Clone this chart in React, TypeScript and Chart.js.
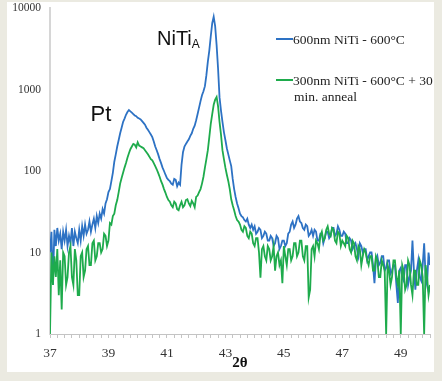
import React, { useEffect, useRef } from "react";
import { Chart, registerables } from "chart.js";

Chart.register(...registerables);

// 2θ sampling grid: 37.00 .. 50.00 in steps of 0.05
const startAngle = 37;
const stepAngle = 0.05;

// 600nm NiTi - 600°C (blue)
const blueCounts = [
  10, 18, 4, 19, 12, 20, 14, 17, 11, 18, // 37.00
  14, 19, 12, 16, 13, 20, 12, 18, 15, 13, // 37.50
  19, 14, 21, 16, 22, 17, 19, 24, 18, 22, // 38.00
  26, 20, 28, 23, 30, 26, 34, 30, 40, 45, // 38.50
  55, 60, 75, 95, 130, 160, 200, 240, 290, 340, // 39.00
  400, 440, 490, 530, 560, 540, 520, 500, 480, 470, // 39.50
  450, 440, 430, 410, 390, 370, 340, 320, 300, 280, // 40.00
  260, 230, 200, 180, 160, 140, 125, 110, 100, 90, // 40.50
  82, 78, 75, 70, 68, 80, 78, 65, 72, 68, // 41.00
  120, 170, 200, 215, 230, 245, 270, 290, 330, 360, // 41.50
  420, 500, 600, 720, 850, 950, 1100, 1500, 2200, 3000, // 42.00
  4500, 6500, 7800, 6000, 3500, 1800, 800, 550, 400, 300, // 42.50
  240, 190, 160, 135, 115, 80, 60, 48, 40, 35, // 43.00
  30, 28, 27, 25, 24, 26, 22, 20, 22, 19, // 43.50
  21, 17, 18, 20, 19, 15, 16, 18, 17, 14, // 44.00
  14, 16, 15, 12, 13, 16, 15, 11, 12, 14, // 44.50
  14, 12, 13, 17, 18, 22, 24, 20, 22, 26, // 45.00
  28, 24, 23, 20, 19, 22, 21, 16, 17, 19, // 45.50
  16, 19, 18, 14, 14, 17, 17, 13, 15, 18, // 46.00
  18, 15, 16, 20, 20, 16, 17, 21, 19, 16, // 46.50
  16, 18, 17, 13, 13, 15, 14, 11, 12, 13, // 47.00
  11, 9, 13, 12, 10, 11, 11, 8, 9, 10, // 47.50
  10, 7, 4.2, 8, 9, 7, 7.5, 9, 9, 6, // 48.00
  6.5, 8, 8, 5.5, 6, 7, 7, 4, 2.4, 6, // 48.50
  6.5, 5, 4.5, 7, 7, 4, 5, 6, 14, 6, // 49.00
  3.5, 6, 8, 5, 4.5, 7, 13, 5, 4, 10, // 49.50
  7, // 50.00
];

// 300nm NiTi - 600°C + 30 min. anneal (green)
const greenCounts = [
  1, 10, 4, 9, 5, 11, 3, 8, 2, 10, // 37.00
  9, 4, 5, 10, 12, 5, 4, 11, 8, 3, // 37.50
  3, 9, 10, 5, 6, 11, 12, 7, 7, 13, // 38.00
  14, 8, 9, 13, 13, 10, 11, 17, 16, 12, // 38.50
  14, 23, 22, 28, 30, 38, 44, 55, 70, 82, // 39.00
  95, 110, 125, 145, 165, 185, 200, 215, 210, 195, // 39.50
  225, 205, 200, 195, 190, 180, 170, 160, 150, 140, // 40.00
  135, 125, 115, 105, 95, 85, 75, 68, 60, 54, // 40.50
  48, 44, 42, 38, 36, 42, 40, 34, 33, 38, // 41.00
  42, 36, 38, 44, 45, 40, 37, 43, 40, 36, // 41.50
  48, 50, 55, 60, 70, 85, 110, 140, 180, 260, // 42.00
  380, 500, 650, 750, 810, 620, 400, 280, 180, 140, // 42.50
  110, 90, 75, 60, 45, 38, 33, 28, 25, 24, // 43.00
  22, 19, 18, 21, 20, 16, 15, 18, 17, 13, // 43.50
  12, 15, 15, 10, 4.9, 11, 12, 9, 8, 12, // 44.00
  11, 8, 9, 12, 6, 9, 10, 7, 8, 4.2, // 44.50
  12, 9, 7, 11, 11, 8, 9, 13, 13, 9, // 45.00
  10, 14, 14, 9, 8, 12, 12, 2.8, 3.5, 11, // 45.50
  12, 9, 14, 13, 11, 16, 18, 14, 15, 19, // 46.00
  21, 17, 16, 20, 19, 14, 13, 18, 17, 12, // 46.50
  14, 13, 12, 16, 15, 11, 10, 14, 13, 9, // 47.00
  8, 12, 11, 7, 9, 11, 10, 8, 7, 9, // 47.50
  9, 6, 6, 9, 8, 5, 5, 8, 7, 6, // 48.00
  1, 7, 6, 4, 5, 8, 8, 5, 4, 6, // 48.50
  1, 7, 6, 3.5, 4, 8, 7, 4, 3, 6, // 49.00
  6, 4, 4, 8, 7, 5, 1, 7, 5, 3, // 49.50
  4, // 50.00
];

const xTickLabels = [37, 39, 41, 43, 45, 47, 49];
const yTickLabels = [1, 10, 100, 1000, 10000];

const seriesNames = ["600nm NiTi - 600°C", "300nm NiTi - 600°C + 30", "min. anneal"];
const blueColor = "#2d72c4";
const greenColor = "#1eab4c";

const toPoints = (arr: number[]) =>
  arr.map((v, i) => ({ x: +(startAngle + i * stepAngle).toFixed(2), y: v }));

const overlayPlugin = {
  id: "overlayText",
  afterDraw(chart: any) {
    const ctx = chart.ctx as CanvasRenderingContext2D;
    ctx.save();
    // legend
    ctx.lineWidth = 2;
    ctx.strokeStyle = blueColor;
    ctx.beginPath();
    ctx.moveTo(276, 39);
    ctx.lineTo(293, 39);
    ctx.stroke();
    ctx.strokeStyle = greenColor;
    ctx.beginPath();
    ctx.moveTo(276, 80);
    ctx.lineTo(293, 80);
    ctx.stroke();
    ctx.fillStyle = "#222";
    ctx.font = "13.5px 'Liberation Serif', 'Times New Roman', serif";
    ctx.textAlign = "left";
    ctx.textBaseline = "middle";
    ctx.fillText(seriesNames[0], 293, 40);
    ctx.fillText(seriesNames[1], 293, 81);
    ctx.fillText(seriesNames[2], 294, 97);

    // annotations
    ctx.fillStyle = "#111";
    ctx.font = "22px 'Liberation Sans', Arial, sans-serif";
    ctx.textAlign = "center";
    ctx.fillText("Pt", 101, 115);
    ctx.textAlign = "left";
    ctx.font = "20px 'Liberation Sans', Arial, sans-serif";
    ctx.fillText("NiTi", 157, 39);
    const w = ctx.measureText("NiTi").width;
    ctx.font = "12px 'Liberation Sans', Arial, sans-serif";
    ctx.fillText("A", 157 + w, 45);
    ctx.restore();
  },
};

export default function App() {
  const canvasRef = useRef<HTMLCanvasElement | null>(null);

  useEffect(() => {
    if (!canvasRef.current) return;
    const chart = new Chart(canvasRef.current, {
      type: "line",
      data: {
        datasets: [
          {
            label: seriesNames[0],
            data: toPoints(blueCounts),
            borderColor: blueColor,
            backgroundColor: blueColor,
            borderWidth: 1.8,
            pointRadius: 0,
            tension: 0,
            order: 1,
          },
          {
            label: seriesNames[1],
            data: toPoints(greenCounts),
            borderColor: greenColor,
            backgroundColor: greenColor,
            borderWidth: 1.8,
            pointRadius: 0,
            tension: 0,
            order: 0,
          },
        ],
      },
      plugins: [overlayPlugin],
      options: {
        responsive: false,
        animation: false,
        devicePixelRatio: 1,
        layout: { padding: { top: 8, right: 12, left: 0, bottom: 0 } },
        plugins: { legend: { display: false }, tooltip: { enabled: false } },
        scales: {
          x: {
            type: "linear",
            min: 37,
            max: 50,
            afterFit: (s: any) => {
              s.height = 47;
              s.paddingLeft = 0;
              s.paddingRight = 0;
            },
            border: { display: true, color: "#c4c4c4", width: 1 },
            grid: {
              display: true,
              drawOnChartArea: false,
              drawTicks: true,
              tickLength: 4,
              color: "#c4c4c4",
            },
            ticks: {
              stepSize: 0.25,
              autoSkip: false,
              maxRotation: 0,
              padding: 7,
              color: "#333",
              font: { family: "'Liberation Serif', 'Times New Roman', serif", size: 13.5 },
              callback: (v: any) => {
                const r = Math.round(Number(v) * 100) / 100;
                return xTickLabels.includes(r) ? String(r) : "";
              },
            },
            title: {
              display: true,
              text: "2θ",
              color: "#111",
              font: { family: "'Liberation Serif', 'Times New Roman', serif", size: 15, weight: "bold" },
              padding: { top: 0, bottom: 9 },
            },
          },
          y: {
            type: "logarithmic",
            min: 1,
            max: 10000,
            afterFit: (s: any) => {
              s.width = 50;
              s.paddingTop = 0;
              s.paddingBottom = 0;
            },
            border: { display: true, color: "#d6d6d6", width: 2 },
            grid: { display: false },
            ticks: {
              autoSkip: false,
              padding: 1,
              color: "#333",
              font: { family: "'Liberation Serif', 'Times New Roman', serif", size: 11.5 },
              callback: (v: any) => {
                const n = Number(v);
                return yTickLabels.includes(n) ? String(n) : "";
              },
            },
          },
        },
      },
    } as any);
    return () => chart.destroy();
  }, []);

  return (
    <div
      style={{
        position: "absolute",
        left: 0,
        top: 0,
        width: 442,
        height: 381,
        background: "#ebeae1",
      }}
    >
      <div
        style={{
          position: "absolute",
          left: 7,
          top: 2,
          width: 427,
          height: 370,
          background: "#ffffff",
        }}
      />
      <canvas
        ref={canvasRef}
        width={442}
        height={381}
        style={{ position: "absolute", left: 0, top: 0, width: 442, height: 381 }}
      />
    </div>
  );
}
